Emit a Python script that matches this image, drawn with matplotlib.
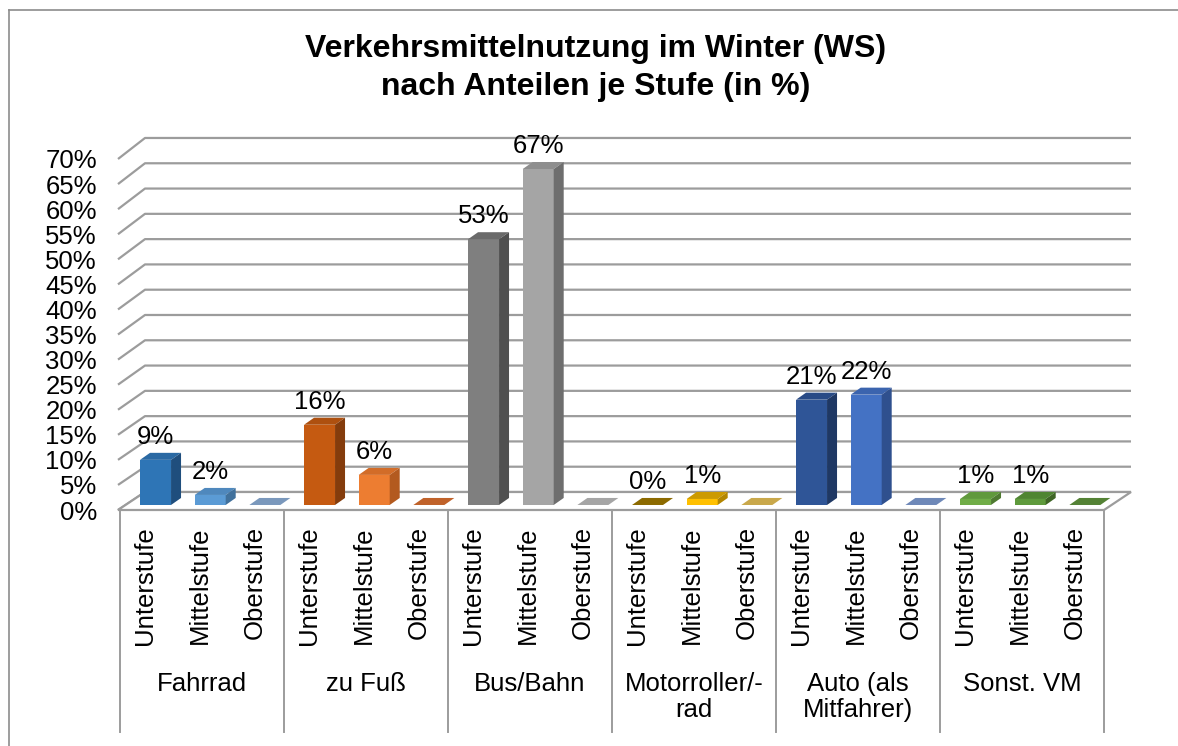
import matplotlib
matplotlib.use("Agg")
import matplotlib.pyplot as plt
from matplotlib.patches import Polygon
from matplotlib.lines import Line2D
import numpy as np

plt.rcParams['font.family'] = ['Liberation Sans', 'DejaVu Sans']

# ---------------- data ----------------
title = "Verkehrsmittelnutzung im Winter (WS)\nnach Anteilen je Stufe (in %)"
categories = ["Fahrrad", "zu Fuß", "Bus/Bahn", "Motorroller/-\nrad", "Auto (als\nMitfahrer)", "Sonst. VM"]
levels = ["Unterstufe", "Mittelstufe", "Oberstufe"]
values_unterstufe = [9, 16, 53, 0, 21, 1.2]
values_mittelstufe = [2, 6, 67, 1.2, 22, 1.2]
values_oberstufe = [0, 0, 0, 0, 0, 0]
labels_unterstufe = ["9%", "16%", "53%", "0%", "21%", "1%"]
labels_mittelstufe = ["2%", "6%", "67%", "1%", "22%", "1%"]
labels_oberstufe = ["", "", "", "", "", ""]
yticks = list(range(0, 75, 5))
ytick_labels = [f"{t}%" for t in yticks]

# colours per category: (front, top, side) for each level
front_colors = [
    ["#2E75B6", "#5B9BD5", "#7A98BC"],
    ["#C55A11", "#ED7D31", "#C0622A"],
    ["#7F7F7F", "#A5A5A5", "#A5A5A5"],
    ["#8C6A00", "#FFC000", "#C9A84B"],
    ["#2F5597", "#4472C4", "#6E88B8"],
    ["#70AD47", "#5E9A3C", "#548235"],
]
top_colors = [
    ["#2A69A3", "#4F88BD", "#7A98BC"],
    ["#AE500F", "#D26C28", "#C0622A"],
    ["#6A6A6A", "#8E8E8E", "#A5A5A5"],
    ["#8C6A00", "#CC9A00", "#C9A84B"],
    ["#294B86", "#3B64AE", "#6E88B8"],
    ["#60993C", "#4F8531", "#548235"],
]
side_colors = [
    ["#1F4E7D", "#41719C", "#5F7C9E"],
    ["#843C0C", "#B35A1F", "#9A4E22"],
    ["#505050", "#6E6E6E", "#808080"],
    ["#6A5000", "#B38600", "#A08640"],
    ["#1F3864", "#2F508E", "#56709A"],
    ["#4E7A31", "#3F6526", "#406328"],
]

# ---------------- geometry (projection constants) ----------------
W, H = 1178, 746
SLOT_PX = 984 / 18.0           # horizontal pixels per bar slot
X0_PX = 120                    # front-left of plot floor
Y0_PX = 510                    # front 0% line
YPX = 351 / 70.0               # pixels per percent on the front plane

DX = 27 / SLOT_PX              # depth offset of the back wall (x)
def back(v):                   # height on back wall for value v
    return v * 1.0086 + 3.59

OX, OY = 0.15, 1.0             # offset of bar front faces into depth
BW = 31 / SLOT_PX              # bar width
BDX, BDY = 10 / SLOT_PX, 1.4   # bar depth

fig = plt.figure(figsize=(W / 100, H / 100), dpi=100)
ax = fig.add_axes([0, 0, 1, 1])
ax.set_xlim(-X0_PX / SLOT_PX, (W - X0_PX) / SLOT_PX)
ax.set_ylim(-(H - Y0_PX) / YPX, Y0_PX / YPX)
ax.axis("off")

def px_x(p):
    return (p - X0_PX) / SLOT_PX
def px_y(p):
    return (Y0_PX - p) / YPX

grid_c = "#9C9C9C"
n_slots = len(categories) * 3
xl = px_x(118)

# gridlines (back wall + left side wall)
for v in yticks:
    ax.plot([xl, xl + DX, n_slots + DX], [v, back(v), back(v)],
            color=grid_c, lw=1.6, zorder=1, solid_capstyle="butt")

# floor
floor = Polygon([(xl, 0), (n_slots, 0), (n_slots + DX, back(0)), (xl + DX, back(0))],
                closed=True, facecolor="white", edgecolor=grid_c, lw=1.6, zorder=2)
ax.add_patch(floor)

# bars
series = [values_unterstufe, values_mittelstufe, values_oberstufe]
series_labels = [labels_unterstufe, labels_mittelstufe, labels_oberstufe]
for s in range(3):
    vals = np.array(series[s], dtype=float)
    centers = np.arange(len(categories)) * 3 + s + 0.5 + OX
    fcols = [front_colors[c][s] for c in range(len(categories))]
    ax.bar(centers, vals, bottom=OY, width=BW, color=fcols, linewidth=0, zorder=4)
    for c, (xc, v) in enumerate(zip(centers, vals)):
        x0, x1 = xc - BW / 2, xc + BW / 2
        top = OY + v
        ax.add_patch(Polygon([(x0, top), (x1, top), (x1 + BDX, top + BDY), (x0 + BDX, top + BDY)],
                             closed=True, facecolor=top_colors[c][s], edgecolor="none", zorder=5))
        if v > 0:
            ax.add_patch(Polygon([(x1, OY), (x1 + BDX, OY + BDY), (x1 + BDX, top + BDY), (x1, top)],
                                 closed=True, facecolor=side_colors[c][s], edgecolor="none", zorder=5))
        lab = series_labels[s][c]
        if lab:
            ax.text(xc, top + 4.6, lab, ha="center", va="center", fontsize=18.5,
                    color="#000000", zorder=6)

# y tick labels
for t, lab in zip(yticks, ytick_labels):
    ax.text(px_x(97), t, lab, ha="right", va="center_baseline", fontsize=18.5, color="#000000")

# category axis: separator lines, level labels, group labels
for k in range(len(categories) + 1):
    ax.plot([k * 3, k * 3], [0, px_y(732)], color=grid_c, lw=1.4, zorder=2)
for c, cat in enumerate(categories):
    for s, lev in enumerate(levels):
        ax.text(c * 3 + s + 0.5 - 0.04, px_y(526), lev, rotation=90, ha="center", va="top",
                fontsize=18.5, color="#000000")
    ax.text(c * 3 + 1.5, px_y(672), cat, ha="center", va="top", fontsize=18.5,
            linespacing=1.1, color="#000000")

# title
fig.text(596 / W, 1 - 68 / H, title, ha="center", va="center", fontsize=23,
         fontweight="bold", linespacing=1.32, color="#000000")

# outer chart border (left and top visible)
fig.add_artist(Line2D([9 / W, 9 / W], [0, 1 - 10 / H], transform=fig.transFigure,
                      color="#8C8C8C", lw=1.2))
fig.add_artist(Line2D([9 / W, 1], [1 - 10 / H, 1 - 10 / H], transform=fig.transFigure,
                      color="#8C8C8C", lw=1.2))

fig.savefig("out.png", dpi=100, facecolor="white")
